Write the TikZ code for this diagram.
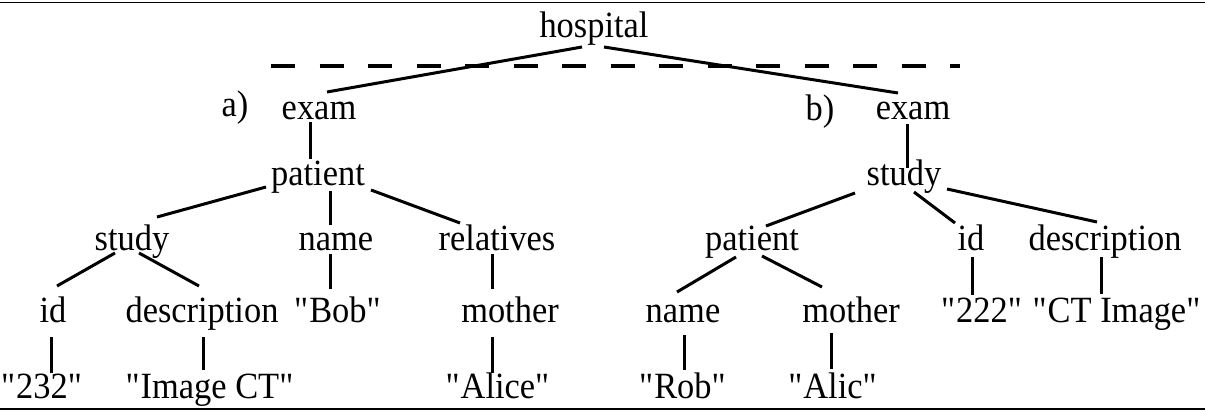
\documentclass[tikz,border=0pt]{standalone}
\usepackage{fontspec}
\setmainfont{Liberation Serif}[FakeStretch=0.93]
\usetikzlibrary{calc}
% straight double quotes around a value
\newcommand\qt[1]{\textquotedbl#1\textquotedbl}
\tikzset{
  lbl/.style={font=\fontsize{37}{40}\selectfont, inner sep=0pt, anchor=base},
  edge/.style={line width=3pt},
  rule/.style={line width=1.8pt},
  sep/.style={line width=4.2pt, dash pattern=on 24pt off 24.5pt}
}
\begin{document}
\begin{tikzpicture}[x=1pt, y=-1pt]
\useasboundingbox (0,0) rectangle (1205,412);
% frame rules
\draw[rule] (0,2.5) -- (1205,2.5);
\draw[rule] (0,409) -- (1205,409);
% root
\node[lbl] (h) at (594,38) {hospital};
\draw[sep] (271,66) -- (960,66);
% tree a)
\node[lbl] (la) at (235,117) {a)};
\node[lbl] (ea) at (319,119) {exam};
\node[lbl] (pa) at (318,185) {patient};
\node[lbl] (sa) at (132,250) {study};
\node[lbl] (na) at (336,250) {name};
\node[lbl] (ra) at (497,250) {relatives};
\node[lbl] (ia) at (53,322) {id};
\node[lbl] (da) at (202,322) {description};
\node[lbl] (ba) at (338,322) {\qt{Bob}};
\node[lbl] (ma) at (510,322) {mother};
\node[lbl] (va) at (42,398) {\qt{232}};
\node[lbl] (ca) at (210,398) {\qt{Image CT}};
\node[lbl] (aa) at (498,398) {\qt{Alice}};
% tree b)
\node[lbl] (lb) at (820,121) {b)};
\node[lbl] (eb) at (913,119) {exam};
\node[lbl] (sb) at (904,185) {study};
\node[lbl] (pb) at (752,250) {patient};
\node[lbl] (ib) at (971,250) {id};
\node[lbl] (db) at (1105,250) {description};
\node[lbl] (nb) at (683,322) {name};
\node[lbl] (mb) at (851,322) {mother};
\node[lbl] (vb) at (982,322) {\qt{222}};
\node[lbl] (cb) at (1117,322) {\qt{CT Image}};
\node[lbl] (rb) at (683,398) {\qt{Rob}};
\node[lbl] (ab) at (833,398) {\qt{Alic}};
% edges of the root
\draw[edge] ($(h.base)+(-12,9)$) -- ($(ea.base)+(8,-27)$);
\draw[edge] ($(h.base)+(10,9)$) -- ($(eb.base)+(-15,-26)$);
% edges of tree a)
\draw[edge] ($(ea.base)+(-9,3)$) -- ($(pa.base)+(-8,-26)$);
\draw[edge] ($(pa.base)+(-52,2)$) -- ($(sa.base)+(25,-33)$);
\draw[edge] ($(pa.base)+(12,6)$) -- ($(na.base)+(-6,-25)$);
\draw[edge] ($(pa.base)+(53,5)$) -- ($(ra.base)+(-37,-27)$);
\draw[edge] ($(sa.base)+(-17,3)$) -- ($(ia.base)+(4,-36)$);
\draw[edge] ($(sa.base)+(7,3)$) -- ($(da.base)+(-3,-36)$);
\draw[edge] ($(na.base)+(-6,4)$) -- ($(ba.base)+(-8,-33)$);
\draw[edge] ($(ra.base)+(-5,4)$) -- ($(ma.base)+(-18,-33)$);
\draw[edge] ($(ia.base)+(-2,15)$) -- ($(va.base)+(9,-25)$);
\draw[edge] ($(da.base)+(1,15)$) -- ($(ca.base)+(-7,-28)$);
\draw[edge] ($(ma.base)+(-18,15)$) -- ($(aa.base)+(-6,-25)$);
% edges of tree b)
\draw[edge] ($(eb.base)+(-6,5)$) -- ($(sb.base)+(3,-17)$);
\draw[edge] ($(sb.base)+(-49,8)$) -- ($(pb.base)+(14,-24)$);
\draw[edge] ($(sb.base)+(10,7)$) -- ($(ib.base)+(-16,-27)$);
\draw[edge] ($(sb.base)+(43,4)$) -- ($(db.base)+(-8,-28)$);
\draw[edge] ($(pb.base)+(-16,7)$) -- ($(nb.base)+(-6,-30)$);
\draw[edge] ($(pb.base)+(10,6)$) -- ($(mb.base)+(-29,-35)$);
\draw[edge] ($(ib.base)+(1,7)$) -- ($(vb.base)+(-10,-27)$);
\draw[edge] ($(db.base)+(-4,7)$) -- ($(cb.base)+(-16,-28)$);
\draw[edge] ($(nb.base)+(1,13)$) -- ($(rb.base)+(1,-28)$);
\draw[edge] ($(mb.base)+(-20,11)$) -- ($(ab.base)+(-2,-29)$);
\end{tikzpicture}
\end{document}
